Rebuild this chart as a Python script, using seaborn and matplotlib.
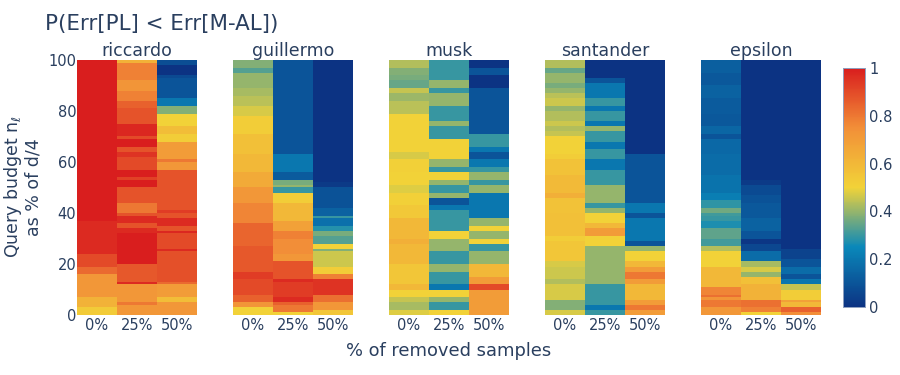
import numpy as np
import pandas as pd
import seaborn as sns
import matplotlib.pyplot as plt
from matplotlib.colors import LinearSegmentedColormap

sns.set_theme(style="white")
plt.rcParams['font.family'] = ['DejaVu Sans']
TEXT = '#2a3f5f'

removed = ['0%', '25%', '50%']
budget_ticks = [100, 80, 60, 40, 20, 0]
cbar_ticks = [0, 0.2, 0.4, 0.6, 0.8, 1]
datasets = ['riccardo', 'guillermo', 'musk', 'santander', 'epsilon']

riccardo_0 = [(1, 63), (.97, 13), (.9, 5), (.83, 3), (.72, 9), (.62, 4), (.53, 3)]
riccardo_25 = [(.62, 1), (.78, 7), (.73, 4), (.78, 4), (.85, 3), (.88, 6), (.98, 5), (.9, 1), (1, 3),
               (.88, 2), (.95, 2), (.9, 5), (1, 3), (.92, 1), (1, 3), (.88, 6), (.8, 4), (.88, 1),
               (.97, 3), (.88, 2), (.97, 2), (1, 12), (.87, 7), (.97, 1), (.72, 7), (.8, 1), (.72, 4)]
riccardo_50 = [(.08, 2), (0, 4), (.07, 1), (.1, 8), (.2, 3), (.38, 3), (.5, 5), (.58, 3), (.52, 3),
               (.7, 7), (.8, 1), (.72, 3), (.88, 16), (.93, 1), (.88, 2), (.97, 3), (.88, 2), (.98, 1),
               (.9, 6), (.97, 1), (.89, 12), (.83, 1), (.7, 5), (.58, 2), (.72, 5)]

guillermo_0 = [(.38, 3), (.33, 2), (.4, 6), (.42, 3), (.44, 4), (.47, 4), (.52, 7), (.57, 8), (.6, 7),
               (.65, 6), (.72, 6), (.77, 8), (.84, 9), (.87, 10), (.93, 3), (.9, 6), (.85, 3), (.73, 2), (.5, 3)]
guillermo_25 = [(.1, 37), (.2, 7), (.12, 3), (.37, 2), (.4, 1), (.3, 2), (.52, 4), (.6, 7), (.68, 4),
                (.78, 3), (.75, 6), (.72, 3), (.88, 7), (.97, 1), (.93, 6), (.97, 2), (.85, 1), (.8, 3), (.5, 1)]
guillermo_50 = [(0, 48), (.02, 2), (.09, 8), (.14, 3), (.3, 1), (.18, 3), (.28, 2), (.37, 2), (.33, 3),
                (.5, 2), (.38, 1), (.46, 6), (.52, 3), (.78, 2), (.95, 6), (.82, 3), (.72, 3), (.55, 2)]

musk_0 = [(.43, 3), (.38, 3), (.37, 2), (.35, 3), (.45, 2), (.41, 3), (.44, 5), (.5, 15), (.47, 3), (.51, 5),
          (.5, 5), (.48, 3), (.51, 5), (.54, 5), (.6, 8), (.63, 2), (.6, 8), (.55, 8), (.6, 2), (.5, 3),
          (.45, 2), (.42, 3), (.48, 2)]
musk_25 = [(.3, 8), (.4, 3), (.3, 2), (.4, 5), (.3, 6), (.4, 2), (.3, 5), (.5, 8), (.4, 3), (.3, 2), (.5, 3),
           (.4, 2), (.3, 3), (.4, 2), (.1, 3), (.2, 2), (.3, 8), (.5, 3), (.4, 5), (.3, 5), (.4, 3), (.3, 5),
           (.2, 2), (.5, 3), (.4, 2), (.3, 3), (.5, 2)]
musk_50 = [(0, 3), (.1, 3), (0, 5), (.1, 18), (.3, 5), (.2, 2), (.1, 3), (.2, 3), (.3, 2), (.4, 3), (.3, 2),
           (.4, 3), (.2, 10), (.4, 3), (.5, 2), (.4, 3), (.5, 2), (.3, 3), (.4, 5), (.6, 5), (.7, 3), (.9, 2), (.7, 10)]

santander_0 = [(.43, 3), (.35, 2), (.4, 4), (.37, 2), (.4, 2), (.44, 2), (.46, 3), (.4, 2), (.43, 4), (.46, 2),
               (.43, 2), (.45, 2), (.5, 7), (.52, 2), (.56, 6), (.59, 7), (.63, 2), (.56, 6), (.57, 9), (.52, 2),
               (.55, 8), (.47, 2), (.46, 5), (.43, 2), (.47, 6), (.38, 4), (.47, 2)]
santander_25 = [(0, 7), (.1, 2), (.2, 6), (.3, 3), (.2, 2), (.3, 4), (.2, 2), (.4, 2), (.3, 4), (.2, 3), (.3, 4),
                (.2, 4), (.3, 6), (.4, 7), (.3, 2), (.4, 2), (.5, 4), (.6, 2), (.7, 3), (.5, 4), (.4, 15), (.3, 8),
                (.2, 2), (.3, 2)]
santander_50 = [(0, 37), (.1, 19), (.2, 4), (.1, 2), (.2, 9), (.1, 2), (.4, 2), (.5, 4), (.6, 2), (.7, 2), (.8, 3),
                (.7, 2), (.6, 6), (.7, 2), (.8, 2), (.7, 2)]

epsilon_0 = [(.13, 5), (.11, 5), (.14, 5), (.12, 6), (.11, 5), (.15, 3), (.1, 2), (.16, 6), (.17, 8), (.19, 7),
             (.22, 3), (.29, 3), (.36, 2), (.31, 1), (.3, 2), (.27, 3), (.34, 4), (.31, 3), (.43, 2), (.5, 6),
             (.6, 8), (.77, 3), (.82, 1), (.73, 1), (.8, 3), (.72, 3)]
epsilon_25 = [(0, 47), (.02, 2), (.07, 4), (.09, 3), (.11, 6), (.14, 5), (.1, 3), (.01, 2), (.06, 3), (.17, 4),
              (.42, 2), (.47, 2), (.4, 2), (.57, 3), (.62, 6), (.82, 3), (.78, 2), (.5, 1)]
epsilon_50 = [(0, 74), (.05, 4), (.1, 3), (.17, 3), (.1, 2), (.2, 2), (.45, 2), (.52, 4), (.68, 1), (.6, 2),
              (.85, 2), (.75, 1)]

panels = {
    'riccardo': [riccardo_0, riccardo_25, riccardo_50],
    'guillermo': [guillermo_0, guillermo_25, guillermo_50],
    'musk': [musk_0, musk_25, musk_50],
    'santander': [santander_0, santander_25, santander_50],
    'epsilon': [epsilon_0, epsilon_25, epsilon_50],
}
panel_left = [77, 233, 389, 545, 701]

# plotly's Portland colorscale
portland = LinearSegmentedColormap.from_list('portland', [
    (0, '#0c3383'), (0.25, '#0a88ba'), (0.5, '#f2d338'), (0.75, '#f28f38'), (1, '#d91e1e')])


def px_axes(fig, x0, y0, x1, y1):
    return fig.add_axes([x0 / 900, 1 - y1 / 375, (x1 - x0) / 900, (y1 - y0) / 375])


def expand(runs):
    return np.repeat([r[0] for r in runs], [r[1] for r in runs])


fig = plt.figure(figsize=(9, 3.75), dpi=100)
cax = px_axes(fig, 843, 68, 865, 307)

for name, left in zip(datasets, panel_left):
    ax = px_axes(fig, left, 60, left + 120, 315)
    df = pd.DataFrame({col: expand(runs) for col, runs in zip(removed, panels[name])})
    first = name == datasets[0]
    sns.heatmap(df, ax=ax, cmap=portland, vmin=0, vmax=1, cbar=first, cbar_ax=cax if first else None,
                yticklabels=False, rasterized=True)
    ax.set_title(name, fontsize=12.5, color=TEXT, pad=3)
    ax.tick_params(axis='x', length=0, labelsize=10.5, labelcolor=TEXT, rotation=0, pad=2.5)
    if first:
        ax.set_yticks([0, 20, 40, 60, 80, 100])
        ax.set_yticklabels(budget_ticks, rotation=0)
        ax.tick_params(axis='y', length=0, labelsize=10.5, labelcolor=TEXT, pad=0.5, left=False, labelleft=True)

cax.set_yticks(cbar_ticks)
cax.set_yticklabels(['0', '0.2', '0.4', '0.6', '0.8', '1'])
cax.tick_params(axis='y', length=0, labelsize=10.5, labelcolor=TEXT, pad=3)
for spine in cax.spines.values():
    spine.set_visible(True)
    spine.set_edgecolor('#8fa0c0')
    spine.set_linewidth(0.6)

fig.text(45 / 900, 1 - 24 / 375, 'P(Err[PL] < Err[M-AL])', fontsize=15.4, color=TEXT, va='center', ha='left')
fig.text(449 / 900, 1 - 351 / 375, '% of removed samples', fontsize=12.9, color=TEXT, va='center', ha='center')
fig.text(22 / 900, 1 - 187 / 375, 'Query budget n$_{\\ell}$\nas % of d/4', fontsize=12.5, color=TEXT,
         va='center', ha='center', rotation=90, linespacing=1.05)

fig.savefig('out.png', dpi=100)
